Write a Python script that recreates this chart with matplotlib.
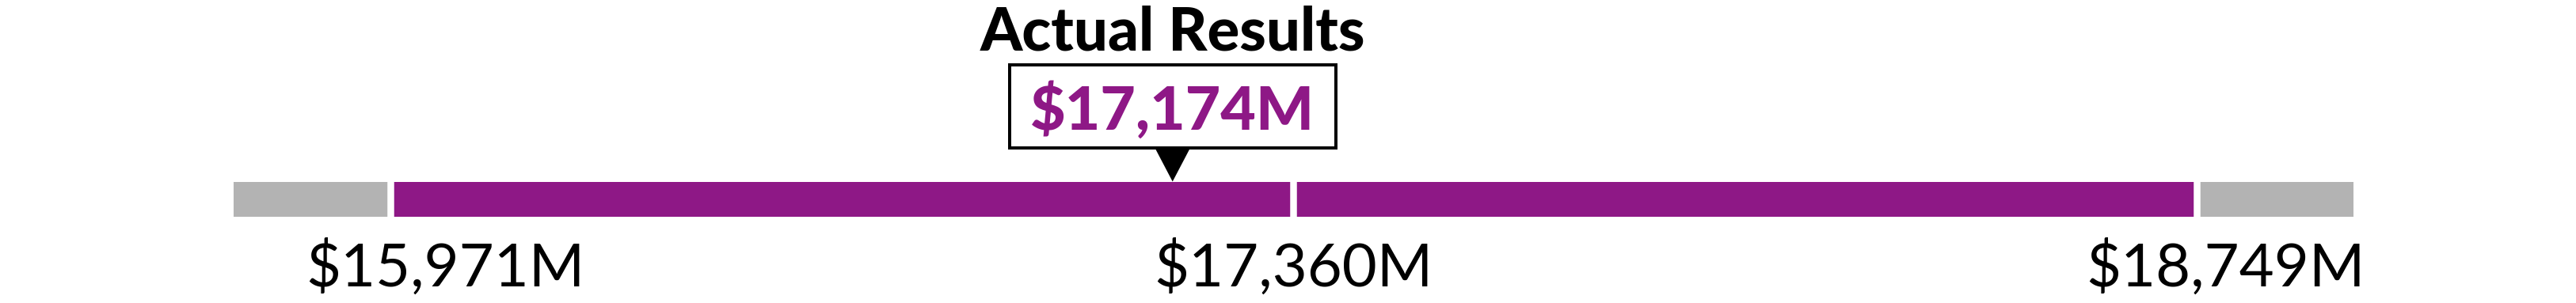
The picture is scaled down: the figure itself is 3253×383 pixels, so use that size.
import matplotlib
matplotlib.use("Agg")
import matplotlib.pyplot as plt
import numpy as np
from matplotlib.patches import Rectangle

# ---- data ----
title = "Actual Results"
actual_value = 17174
actual_label = "$17,174M"
segment_edges = [15730, 15971, 17360, 18749, 18990]
segment_colors = ["#B3B3B3", "#8E1886", "#8E1886", "#B3B3B3"]
tick_values = [15971, 17360, 18749]
tick_labels = ["$15,971M", "$17,360M", "$18,749M"]
tick_offsets_px = [70, 0, 36]

PURPLE = "#8E1886"
W, H = 3253, 383
fig = plt.figure(figsize=(W / 100, H / 100), dpi=100)
ax = fig.add_axes([0, 0, 1, 1])
ax.set_xlim(segment_edges[0] - 359, segment_edges[-1] + 342)
ax.set_ylim(H, 0)
ax.axis("off")

FONT = "Lato"
PT = 0.72  # points per pixel at dpi 100

# bar segments
lefts = segment_edges[:-1]
widths = np.diff(segment_edges)
bar_top, bar_bot = 229.5, 273.5
ax.barh((bar_top + bar_bot) / 2, widths, left=lefts, height=bar_bot - bar_top,
        color=segment_colors, linewidth=0)
ax.vlines(segment_edges[1:-1], bar_top - 1, bar_bot + 1, colors="white",
          linewidth=8.5 * PT)

# pixel per data unit
s = ax.transData.transform((1, 0))[0] - ax.transData.transform((0, 0))[0]

# pointer triangle
tri_h, tri_w = 42, 44
ax.fill([actual_value - tri_w / 2 / s, actual_value + tri_w / 2 / s, actual_value],
        [bar_top - tri_h, bar_top - tri_h, bar_top], color="black", linewidth=0,
        zorder=4)

# value box
box_w, box_top, box_bot = 412, 82, 187
ax.add_patch(Rectangle((actual_value - box_w / 2 / s, box_top), box_w / s,
                       box_bot - box_top, facecolor="white", edgecolor="black",
                       linewidth=4 * PT, zorder=3))
ax.text(actual_value, 164, actual_label, ha="center", va="baseline",
        fontsize=77 * PT, fontweight="black", color=PURPLE, family=FONT, zorder=5)

# title
ax.text(actual_value, 64, title, ha="center", va="baseline",
        fontsize=76 * PT, fontweight="black", color="black", family=FONT)

# tick labels
for v, lab, off in zip(tick_values, tick_labels, tick_offsets_px):
    ax.annotate(lab, xy=(v, 362), xycoords="data", xytext=(off, 0),
                textcoords="offset pixels", ha="center", va="baseline",
                fontsize=76 * PT, fontweight="normal", color="black", family=FONT)

fig.savefig("out.png", dpi=100)
